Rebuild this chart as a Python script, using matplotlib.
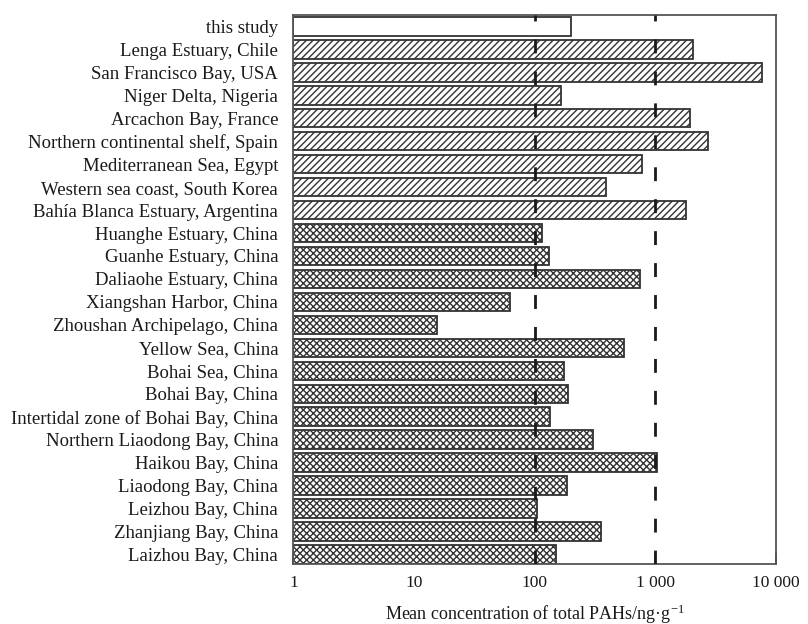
import matplotlib
matplotlib.use("Agg")
import matplotlib.pyplot as plt
from matplotlib.ticker import FixedLocator, FixedFormatter

plt.rcParams['font.family'] = ['Liberation Serif', 'DejaVu Serif']
plt.rcParams['mathtext.fontset'] = 'custom'
plt.rcParams['mathtext.rm'] = 'Liberation Serif'
plt.rcParams['mathtext.default'] = 'regular'
plt.rcParams['hatch.linewidth'] = 1.0
plt.rcParams['hatch.color'] = '#333333'

# top-to-bottom order as in the chart
sites = [
    "this study",
    "Lenga Estuary, Chile",
    "San Francisco Bay, USA",
    "Niger Delta, Nigeria",
    "Arcachon Bay, France",
    "Northern continental shelf, Spain",
    "Mediterranean Sea, Egypt",
    "Western sea coast, South Korea",
    "Bahía Blanca Estuary, Argentina",
    "Huanghe Estuary, China",
    "Guanhe Estuary, China",
    "Daliaohe Estuary, China",
    "Xiangshan Harbor, China",
    "Zhoushan Archipelago, China",
    "Yellow Sea, China",
    "Bohai Sea, China",
    "Bohai Bay, China",
    "Intertidal zone of Bohai Bay, China",
    "Northern Liaodong Bay, China",
    "Haikou Bay, China",
    "Liaodong Bay, China",
    "Leizhou Bay, China",
    "Zhanjiang Bay, China",
    "Laizhou Bay, China",
]
values = [200, 2050, 7600, 164, 1945, 2750, 780, 391, 1810,
          114, 130, 746, 61, 14.4, 550, 173, 187, 132, 304, 1040,
          183, 103, 355, 148]
groups = ["study"] + ["world"] * 8 + ["china"] * 15
ref_lines = [100, 1000]
xticks = [1, 10, 100, 1000, 10000]
xtick_labels = ["1", "10", "100", "1 000", "10 000"]

hatch_map = {"study": "", "world": "/////", "china": "xxxxx"}

fig = plt.figure(figsize=(8.08, 6.24), dpi=100)
ax = fig.add_axes([0.3632, 0.0962, 0.5972, 0.879])

n = len(sites)
ypos = [n - 1 - i for i in range(n)]
for y, v, g in zip(ypos, values, groups):
    ax.barh(y, v, left=1, height=0.8, color='white', edgecolor='#333333',
            linewidth=1.3, hatch=hatch_map[g], zorder=2)

for xv in ref_lines:
    ax.axvline(xv, color='#1a1a1a', linewidth=2.0,
               linestyle=(0, (5, 6.5)), zorder=3)

ax.set_xscale('log')
ax.set_xlim(1, 10000)
ax.set_ylim(-0.42, n - 1 + 0.48)
ax.xaxis.set_major_locator(FixedLocator(xticks))
ax.xaxis.set_major_formatter(FixedFormatter(xtick_labels))
ax.xaxis.set_minor_locator(FixedLocator([]))
ax.set_yticks(ypos)
ax.set_yticklabels(sites)

ax.tick_params(axis='x', direction='in', length=8, width=1.2,
               color='#333333', labelsize=12.5, pad=8,
               labelcolor='#1a1a1a')
ax.tick_params(axis='y', length=0, labelsize=13.5, pad=11,
               labelcolor='#1a1a1a')

for s in ax.spines.values():
    s.set_color('#555555')
    s.set_linewidth(1.3)

ax.set_xlabel("Mean concentration of total PAHs/ng·g$^{-1}$", fontsize=13,
              color='#1a1a1a', labelpad=8)

fig.savefig("out.png", dpi=100)
